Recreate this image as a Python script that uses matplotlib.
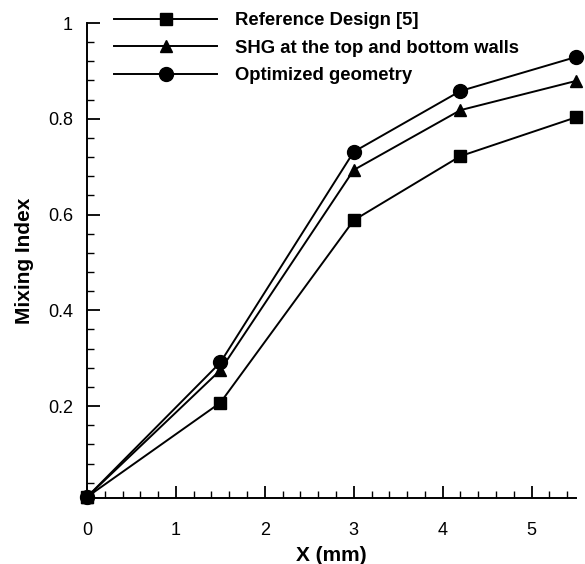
import numpy as np
import matplotlib
matplotlib.use('Agg')
import matplotlib.pyplot as plt
from matplotlib.ticker import MultipleLocator

# Datos
x_mm = [0, 1.5, 3, 4.2, 5.5]
ref_design = [0.01, 0.207, 0.588, 0.722, 0.803]
shg_walls = [0.01, 0.275, 0.693, 0.818, 0.879]
optimized = [0.01, 0.291, 0.731, 0.858, 0.929]

etiquetas = ['Reference Design [5]',
             'SHG at the top and bottom walls',
             'Optimized geometry']

plt.rcParams['font.family'] = ['Liberation Sans', 'DejaVu Sans']

fig = plt.figure(figsize=(5.85, 5.64), dpi=100)
ax = fig.add_axes([87 / 585, 66 / 564, 489 / 585, 475 / 564])

ax.plot(x_mm, ref_design, color='black', lw=1.4, marker='s', ms=8,
        label=etiquetas[0], clip_on=False, zorder=3)
ax.plot(x_mm, shg_walls, color='black', lw=1.4, marker='^', ms=8.5,
        label=etiquetas[1], clip_on=False, zorder=3)
ax.plot(x_mm, optimized, color='black', lw=1.4, marker='o', ms=10,
        label=etiquetas[2], clip_on=False, zorder=3)

ax.set_xlim(0, 5.5)
ax.set_ylim(0.008, 1)

# Ejes estilo tecplot
ax.spines['top'].set_visible(False)
ax.spines['right'].set_visible(False)
ax.spines['left'].set_linewidth(1.4)
ax.spines['bottom'].set_linewidth(1.4)

ax.xaxis.set_minor_locator(MultipleLocator(0.2))
ax.set_xticks([0, 1, 2, 3, 4, 5])
ax.set_xticklabels(['0', '1', '2', '3', '4', '5'])
ax.set_yticks([0.2, 0.4, 0.6, 0.8, 1.0])
ax.set_yticklabels(['0.2', '0.4', '0.6', '0.8', '1'])
ax.yaxis.set_minor_locator(MultipleLocator(0.04))

ax.tick_params(which='major', direction='in', length=9, width=1.3,
               labelsize=13)
ax.tick_params(axis='x', which='major', pad=17)
ax.tick_params(axis='y', which='major', pad=10)
ax.tick_params(which='minor', direction='in', length=5, width=1.0)

ax.set_xlabel('X (mm)', fontsize=15, fontweight='bold', labelpad=5)
ax.set_ylabel('Mixing Index', fontsize=15, fontweight='bold', labelpad=10)

ax.legend(loc='upper left', bbox_to_anchor=(114 / 585, (564 - 12) / 564),
          bbox_transform=fig.transFigure, frameon=False, borderpad=0,
          borderaxespad=0, handlelength=5.6, handletextpad=0.95,
          labelspacing=0.58, prop={'weight': 'bold', 'size': 13.3})

fig.savefig('out.png', dpi=100)
